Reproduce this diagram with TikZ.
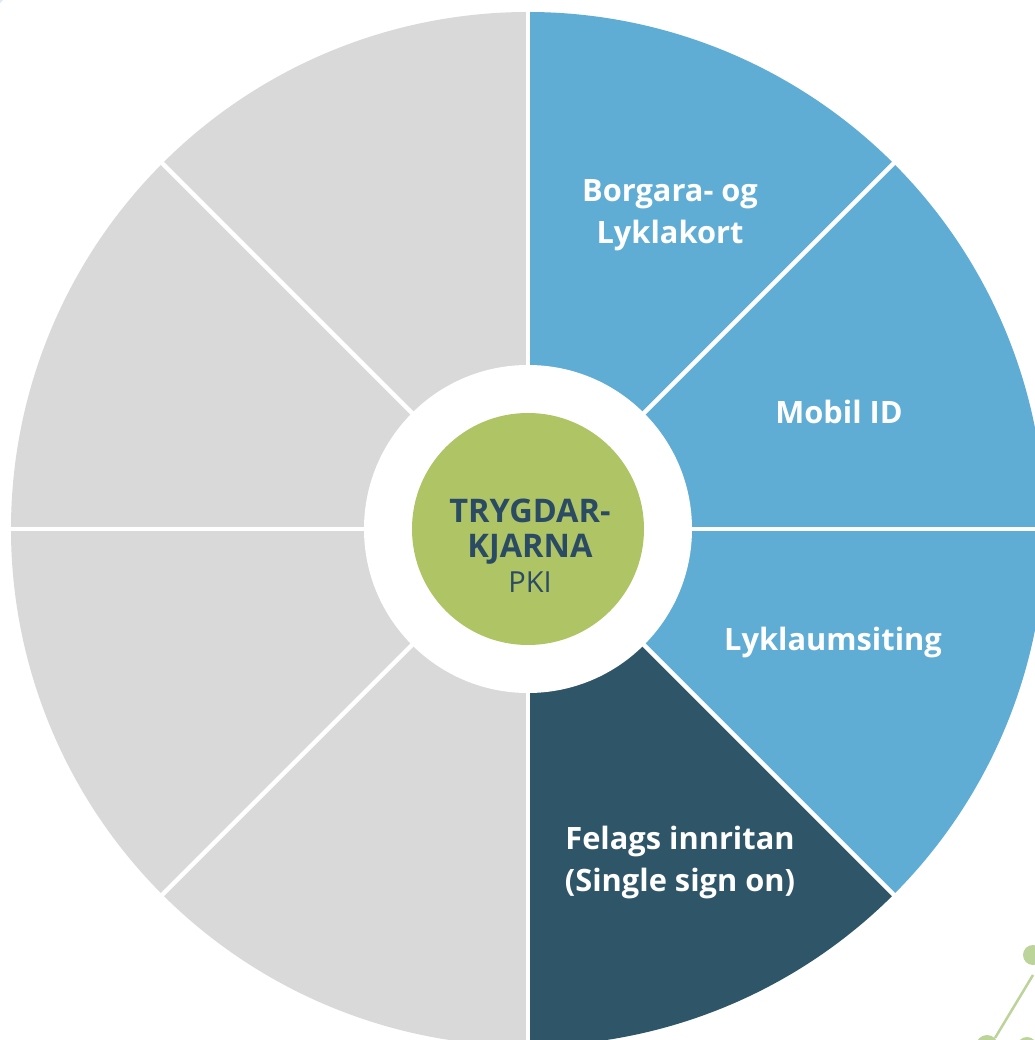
\documentclass[tikz,border=0pt]{standalone}
\usepackage{fontspec}
\setmainfont{Open Sans}
\definecolor{skyblue}{HTML}{5FADD5}
\definecolor{deepteal}{HTML}{2E5568}
\definecolor{segGray}{HTML}{D9D9D9}
\definecolor{coregreen}{HTML}{AEC465}
\definecolor{navytext}{HTML}{2B4A63}
\definecolor{bgblue}{HTML}{DFE8F6}
\definecolor{leafgreen}{HTML}{BCD39A}
\pgfdeclareradialshading{bgshade}{\pgfpoint{0bp}{0bp}}{color(0bp)=(white); color(33bp)=(white); color(50bp)=(bgblue)}
\tikzset{
  seglabel/.style={align=center, text=white, font=\fontsize{30.8}{42}\selectfont\bfseries, inner sep=0pt},
  divider/.style={white, line width=4.5pt},
}
\begin{document}
\begin{tikzpicture}[x=1pt,y=1pt]
\useasboundingbox (-528,-511) rectangle (506,529);
\begin{scope}
\clip (-528,-511) rectangle (506,529);
\fill[bgblue] (-528,-511) rectangle (506,529);
\shade[shading=bgshade] (0,0) circle (745);
\end{scope}
\def\R{517}
% sectors
\foreach \a/\c in {45/skyblue, 0/skyblue, -45/skyblue, -90/deepteal, 90/segGray, 135/segGray, 180/segGray, 225/segGray}
  \fill[\c] (0,0) -- (\a:\R) arc[start angle=\a, end angle=\a+45, radius=\R] -- cycle;
% dividers
\foreach \a in {0,45,...,315}
  \draw[divider] (0,0) -- (\a:\R+6);
% hub
\fill[white] (0,0) circle (164);
\node[circle, fill=coregreen, minimum size=232pt, inner sep=0pt] (core) at (0,0) {};
\node[align=center, text=navytext, inner sep=0pt, font=\fontsize{32.5}{35}\selectfont\bfseries] (coretext) at (2,-17)
  {TRYGDAR-\\KJARNA\\{\mdseries\fontsize{29}{35}\selectfont PKI}};
% labels
\node[seglabel] (card) at (142,314) {Borgara- og\\Lyklakort};
\node[seglabel] (mobile) at (311,117) {Mobil ID};
\node[seglabel] (keyadmin) at (305,-113) {Lyklaumsiting};
\node[seglabel] (sso) at (152,-333) {Felags innritan\\(Single sign on)};
% corner decoration
\draw[leafgreen, line width=2.5pt] (505,-446) -- (467,-509);
\fill[leafgreen] (505,-426) circle (10);
\fill[leafgreen] (459,-517) circle (11);
\fill[leafgreen] (499,-518) circle (10);
\end{tikzpicture}
\end{document}
